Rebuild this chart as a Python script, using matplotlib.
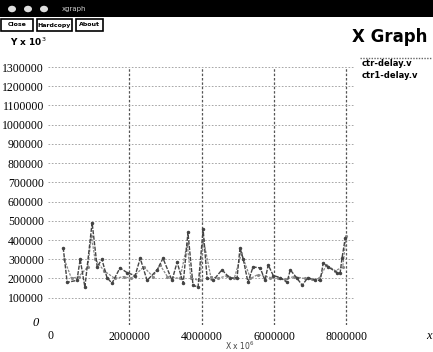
import matplotlib.pyplot as plt
from matplotlib.patches import Rectangle, Circle

W, H = 433, 352

# series
x1 = [0.17e6, 0.28e6, 0.55e6, 0.64e6, 0.77e6, 0.97e6, 1.11e6, 1.24e6, 1.38e6,
      1.52e6, 1.74e6, 1.94e6, 2.16e6, 2.30e6, 2.49e6, 2.77e6, 2.93e6, 3.18e6,
      3.32e6, 3.49e6, 3.62e6, 3.76e6, 3.90e6, 4.04e6, 4.15e6, 4.32e6, 4.56e6,
      4.79e6, 4.98e6, 5.06e6, 5.15e6, 5.28e6, 5.42e6, 5.62e6, 5.75e6, 5.84e6,
      5.98e6, 6.17e6, 6.36e6, 6.45e6, 6.64e6, 6.78e6, 6.94e6, 7.14e6, 7.28e6,
      7.36e6, 7.50e6, 7.75e6, 7.83e6, 7.88e6, 7.97e6]
y1 = [360000, 180000, 190000, 300000, 155000, 490000, 260000, 300000, 205000,
      175000, 255000, 230000, 215000, 305000, 190000, 245000, 305000, 190000,
      285000, 175000, 440000, 165000, 155000, 455000, 200000, 190000, 245000,
      200000, 205000, 360000, 300000, 180000, 260000, 255000, 190000, 270000,
      215000, 205000, 180000, 245000, 200000, 165000, 205000, 190000, 190000,
      280000, 260000, 230000, 230000, 305000, 410000]

x2 = [0.20e6, 0.40e6, 0.60e6, 0.85e6, 0.95e6, 1.05e6, 1.30e6, 1.60e6, 1.85e6,
      2.05e6, 2.40e6, 2.65e6, 2.85e6, 3.05e6, 3.40e6, 3.60e6, 3.70e6, 3.95e6,
      4.05e6, 4.25e6, 4.45e6, 4.70e6, 4.90e6, 5.10e6, 5.35e6, 5.55e6, 5.90e6,
      6.10e6, 6.30e6, 6.55e6, 6.85e6, 7.05e6, 7.25e6, 7.45e6, 7.70e6, 7.90e6,
      8.00e6]
y2 = [300000, 200000, 210000, 260000, 420000, 300000, 240000, 200000, 210000,
      200000, 260000, 210000, 270000, 210000, 200000, 380000, 200000, 190000,
      400000, 210000, 200000, 215000, 200000, 330000, 200000, 220000, 205000,
      200000, 195000, 210000, 200000, 195000, 200000, 270000, 240000, 260000,
      420000]

y_ticks = [100000, 200000, 300000, 400000, 500000, 600000, 700000, 800000,
           900000, 1000000, 1100000, 1200000, 1300000]
x_ticks = [2000000, 4000000, 6000000, 8000000]
series_names = ['ctr-delay.v', 'ctr1-delay.v']


def fx(px):
    return px / W


def fy(py):
    return 1 - py / H


fig = plt.figure(figsize=(W / 100, H / 100), dpi=100)
fig.patch.set_facecolor('white')

# window chrome
fig.patches.append(Rectangle((0, fy(17)), 1, 17 / H, transform=fig.transFigure,
                             facecolor='black', edgecolor='none'))
for cx in [12, 28, 44]:
    fig.patches.append(Circle((fx(cx), fy(9)), 4 / W, transform=fig.transFigure,
                              facecolor='#dddddd', edgecolor='none'))
fig.text(fx(62), fy(9), 'xgraph', color='#cccccc', fontsize=5, va='center')

for label, x0, x1b in [('Close', 1, 33), ('Hardcopy', 37, 72), ('About', 76, 103)]:
    fig.patches.append(Rectangle((fx(x0), fy(31)), (x1b - x0) / W, 12 / H,
                                 transform=fig.transFigure, facecolor='white',
                                 edgecolor='black', linewidth=1.2))
    fig.text(fx((x0 + x1b) / 2), fy(25), label, fontsize=4.5, fontweight='bold',
             ha='center', va='center')

fig.text(fx(352), fy(37), 'X Graph', fontsize=12, fontweight='bold',
         va='center', ha='left')
fig.text(fx(10), fy(42), 'Y x 10$^3$', fontsize=6.5, fontweight='bold',
         va='center', ha='left')

# plot area
ax = fig.add_axes([fx(48), fy(325), (355 - 48) / W, (325 - 67) / H])
ax.set_xlim(-0.25e6, 8.24e6)
ax.set_ylim(-42000, 1300000)
for s in ax.spines.values():
    s.set_visible(False)
ax.set_facecolor('none')

ax.set_yticks(y_ticks)
ax.set_yticklabels([str(v) for v in y_ticks])
ax.set_xticks(x_ticks)
ax.set_xticklabels([str(v) for v in x_ticks])
ax.tick_params(length=0, labelsize=8.5)
ax.tick_params(axis='y', pad=3)
ax.tick_params(axis='x', pad=4)
for t in ax.get_xticklabels() + ax.get_yticklabels():
    t.set_fontfamily('Liberation Serif')
ax.grid(axis='y', color='#999999', linestyle=(0, (2, 2)), linewidth=0.6)
ax.grid(axis='x', color='#555555', linestyle=(0, (2, 1.5)), linewidth=0.9)

ax.plot(x2, y2, color='#888888', linestyle=(0, (2, 1)), linewidth=0.9,
        marker='.', markersize=2.5)
ax.plot(x1, y1, color='#444444', linestyle=(0, (3, 1)), linewidth=1.0,
        marker='.', markersize=3)

# zero labels and axis letters
fig.text(fx(39), fy(323), '0', fontsize=9, fontstyle='italic',
         family='Liberation Serif', ha='right', va='center')
fig.text(fx(50), fy(336), '0', fontsize=8.5, family='Liberation Serif',
         ha='center', va='center')
fig.text(fx(426), fy(336), 'x', fontsize=9, fontstyle='italic',
         family='Liberation Serif', ha='left', va='center')
fig.text(fx(240), fy(351.5), 'X x 10$^6$', fontsize=5.5, ha='center',
         va='bottom', color='#444444')

# legend
fig.lines.append(plt.Line2D([fx(360), fx(432)], [fy(58), fy(58)],
                            transform=fig.transFigure, color='#666666',
                            linestyle=(0, (1, 1)), linewidth=1))
fig.text(fx(362), fy(64), series_names[0], fontsize=6, fontweight='bold', va='center')
fig.text(fx(362), fy(76), series_names[1], fontsize=6, fontweight='bold', va='center')

fig.savefig('out.png', dpi=100)
